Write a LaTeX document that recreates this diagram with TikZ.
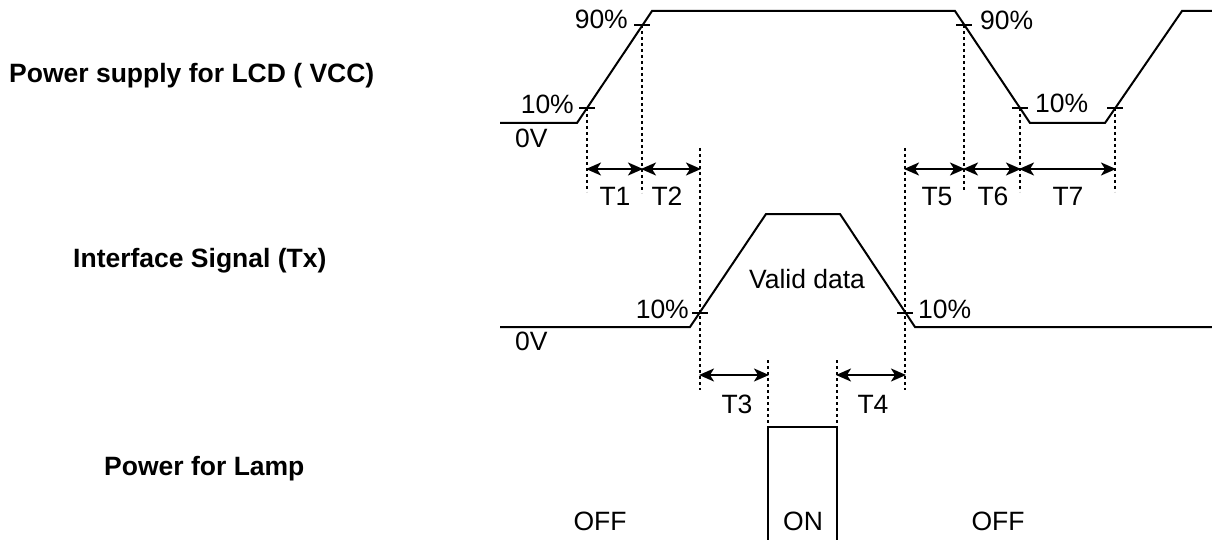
\documentclass[tikz,border=0pt]{standalone}
\usepackage{fontspec}
\setmainfont{Liberation Sans}
\usetikzlibrary{arrows.meta}
\begin{document}
\begin{tikzpicture}[x=1pt,y=-1pt,
  wave/.style={line width=2pt, line join=miter},
  dotline/.style={line width=2pt, dash pattern=on 3pt off 3pt},
  tick/.style={line width=1.6pt},
  dim/.style={line width=2pt, {Stealth[length=15pt,width=13pt,inset=4pt]}-{Stealth[length=15pt,width=13pt,inset=4pt]}, shorten <=-1pt, shorten >=-1pt},
  lbl/.style={inner sep=0pt, font=\fontsize{26.5}{30}\selectfont},
  blbl/.style={lbl, font=\fontsize{26.5}{30}\selectfont\bfseries}]
\useasboundingbox (0,0) rectangle (1212,540);
\fill[white] (0,0) rectangle (1212,540);

% left labels
\node[blbl, anchor=base west] (lvcc) at (9,83) {Power supply for LCD ( VCC)};
\node[blbl, anchor=base west] (ltx) at (73,267) {Interface Signal (Tx)};
\node[blbl, anchor=base west] (llamp) at (104,475) {Power for Lamp};

% VCC waveform
\draw[wave] (500,123) -- (577,123) -- (652,11) -- (955,11) -- (1030,123) -- (1105,123) -- (1182,11) -- (1212,11);
% Tx waveform
\draw[wave] (500,327) -- (690,327) -- (766,214) -- (840,214) -- (915,327) -- (1212,327);
% Lamp
\draw[wave] (768,545) -- (768,427) -- (837,427) -- (837,545);

% tick points
\coordinate (a10) at (587,108);
\coordinate (a90) at (642,25);
\coordinate (b90) at (964,25);
\coordinate (b10) at (1020,108);
\coordinate (c10) at (1115,108);
\coordinate (t10) at (700,313);
\coordinate (u10) at (905,313);
\foreach \p in {a10,a90,b90,b10,c10,t10,u10}
  \draw[tick] ([xshift=-8pt]\p) -- ([xshift=8pt]\p);

% dotted lines
\draw[dotline] (587,108) -- (587,192);
\draw[dotline] (642,25) -- (642,193);
\draw[dotline] (700,148) -- (700,390);
\draw[dotline] (964,25) -- (964,192);
\draw[dotline] (1020,108) -- (1020,192);
\draw[dotline] (1115,108) -- (1115,192);
\draw[dotline] (905,148) -- (905,390);
\draw[dotline] (768,360) -- (768,427);
\draw[dotline] (837,360) -- (837,427);

% dimension arrows
\coordinate (d1) at (587,169);
\coordinate (d2) at (642,169);
\coordinate (d3) at (700,169);
\coordinate (d5) at (905,169);
\coordinate (d6) at (964,169);
\coordinate (d7) at (1020,169);
\coordinate (d8) at (1115,169);
\coordinate (e1) at (700,375);
\coordinate (e2) at (768,375);
\coordinate (e3) at (837,375);
\coordinate (e4) at (905,375);
\draw[dim] (d1) -- (d2);
\draw[dim] (d2) -- (d3);
\draw[dim] (d5) -- (d6);
\draw[dim] (d6) -- (d7);
\draw[dim] (d7) -- (d8);
\draw[dim] (e1) -- (e2);
\draw[dim] (e3) -- (e4);

% labels
\node[lbl, anchor=base east] (p90a) at (628,29) {90\%};
\node[lbl, anchor=base east] (p10a) at (574,114) {10\%};
\node[lbl, anchor=base west] (v0a) at (515,148) {0V};
\node[lbl, anchor=base west] (p90b) at (980,30) {90\%};
\node[lbl, anchor=base west] (p10b) at (1035,113) {10\%};
\node[lbl, anchor=base] (T1) at (615,205) {T1};
\node[lbl, anchor=base] (T2) at (667,205) {T2};
\node[lbl, anchor=base] (T5) at (937,205) {T5};
\node[lbl, anchor=base] (T6) at (993,205) {T6};
\node[lbl, anchor=base] (T7) at (1068,205) {T7};
\node[lbl, anchor=base east] (p10c) at (689,318) {10\%};
\node[lbl, anchor=base west] (p10d) at (918,318) {10\%};
\node[lbl, anchor=base west] (v0b) at (515,350) {0V};
\node[lbl, anchor=base] (vd) at (807,288) {Valid data};
\node[lbl, anchor=base] (T3) at (737,413) {T3};
\node[lbl, anchor=base] (T4) at (873,413) {T4};
\node[lbl, anchor=base] (on) at (803,530) {ON};
\node[lbl, anchor=base] (off1) at (600,530) {OFF};
\node[lbl, anchor=base] (off2) at (998,530) {OFF};
\end{tikzpicture}
\end{document}
